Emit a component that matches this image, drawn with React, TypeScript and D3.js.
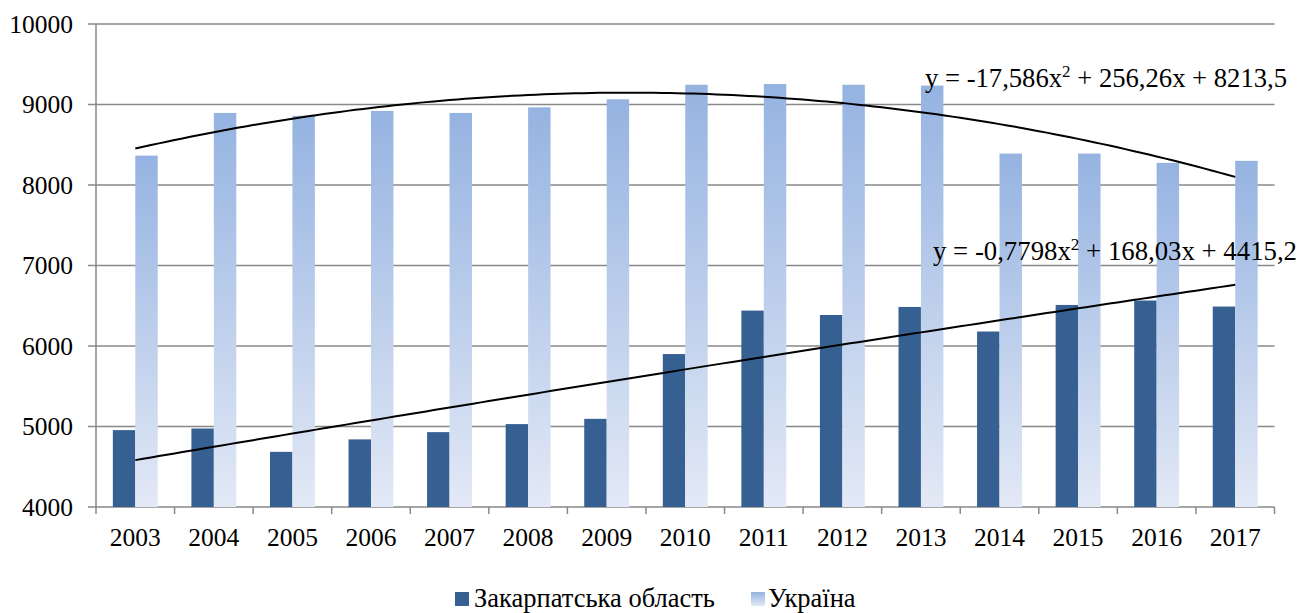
import React from "react";
import * as d3 from "d3";

const years = ["2003","2004","2005","2006","2007","2008","2009","2010","2011","2012","2013","2014","2015","2016","2017"];
const zakarpattia = [4955, 4975, 4685, 4840, 4930, 5030, 5095, 5900, 6440, 6385, 6485, 6180, 6510, 6565, 6490];
const ukraine = [8365, 8895, 8860, 8920, 8895, 8965, 9065, 9245, 9255, 9245, 9235, 8390, 8390, 8275, 8300];
const yTicks = [4000, 5000, 6000, 7000, 8000, 9000, 10000];
const ukraineTrend = [-17.586, 256.26, 8213.5];
const zakTrend = [-0.7798, 168.03, 4415.2];
const seriesNames = ["Закарпатська область", "Україна"];

const W = 1309, H = 613;
const FONT = "'Liberation Serif', 'Times New Roman', serif";
const fmt = (v: number) => String(v).replace(".", ",");

export default function App() {
  const x0 = d3.scaleBand().domain(years).range([96, 1274.5]).paddingInner(0).paddingOuter(0);
  const bw = x0.bandwidth() / 3.5;
  const y = d3.scaleLinear().domain([4000, 10000]).range([507, 24]);
  const cx = (i: number) => (x0(years[i]) as number) + x0.bandwidth() / 2;
  const xIdx = d3.scaleLinear().domain([1, years.length]).range([cx(0), cx(years.length - 1)]);
  const poly = (c: number[]) => (t: number) => c[0] * t * t + c[1] * t + c[2];
  const sample = d3.range(1, years.length + 0.001, 0.1);
  const line = (c: number[]) =>
    d3.line<number>().x((t) => xIdx(t)).y((t) => y(poly(c)(t)))(sample) as string;

  const eq = (c: number[], x: number, yy: number) => (
    <text x={x} y={yy} fontFamily={FONT} fontSize={26.5} fill="#000" textLength={x === 925 ? 362 : 364} lengthAdjust="spacingAndGlyphs">
      y = {fmt(c[0])}x<tspan dy={-10} fontSize={17}>2</tspan>
      <tspan dy={10}> + {fmt(c[1])}x + {fmt(c[2])}</tspan>
    </text>
  );

  return (
    <svg width={W} height={H} style={{ position: "absolute", left: 0, top: 0, background: "#fff" }}>
      <defs>
        <linearGradient id="lg" x1="0" y1="0" x2="0" y2="1">
          <stop offset="0" stopColor="#95B3E1" />
          <stop offset="1" stopColor="#E3E9F6" />
        </linearGradient>
        <linearGradient id="lgLeg" x1="0" y1="0" x2="0" y2="1">
          <stop offset="0" stopColor="#95B3E1" />
          <stop offset="1" stopColor="#E3E9F6" />
        </linearGradient>
      </defs>
      {yTicks.map((t) => (
        <g key={t}>
          <line x1={88} x2={1274.5} y1={y(t)} y2={y(t)} stroke="#898989" strokeWidth={1.5} />
          <text x={73} y={y(t) + 8.5} textAnchor="end" fontFamily={FONT} fontSize={25.5} fill="#000">{t}</text>
        </g>
      ))}
      <line x1={96} x2={96} y1={24} y2={514} stroke="#898989" strokeWidth={1.5} />
      {years.map((yr) => (
        <line key={"tk" + yr} x1={(x0(yr) as number) + x0.bandwidth()} x2={(x0(yr) as number) + x0.bandwidth()} y1={507} y2={514} stroke="#898989" strokeWidth={1.5} />
      ))}
      {years.map((yr, i) => (
        <g key={yr}>
          <rect x={cx(i) - bw} y={y(zakarpattia[i])} width={bw} height={507 - y(zakarpattia[i])} fill="#376092" />
          <rect x={cx(i)} y={y(ukraine[i])} width={bw} height={507 - y(ukraine[i])} fill="url(#lg)" />
          <text x={cx(i)} y={546} textAnchor="middle" fontFamily={FONT} fontSize={25.5} fill="#000">{yr}</text>
        </g>
      ))}
      <path d={line(ukraineTrend)} fill="none" stroke="#000" strokeWidth={2} />
      <path d={line(zakTrend)} fill="none" stroke="#000" strokeWidth={2} />
      {eq(ukraineTrend, 925, 87)}
      {eq(zakTrend, 933, 260)}
      <rect x={455} y={592} width={14} height={14} fill="#376092" />
      <text x={474} y={607} fontFamily={FONT} fontSize={26.5} fill="#000">{seriesNames[0]}</text>
      <rect x={751} y={592} width={14} height={14} fill="url(#lgLeg)" />
      <text x={768} y={607} fontFamily={FONT} fontSize={26.5} fill="#000">{seriesNames[1]}</text>
    </svg>
  );
}
